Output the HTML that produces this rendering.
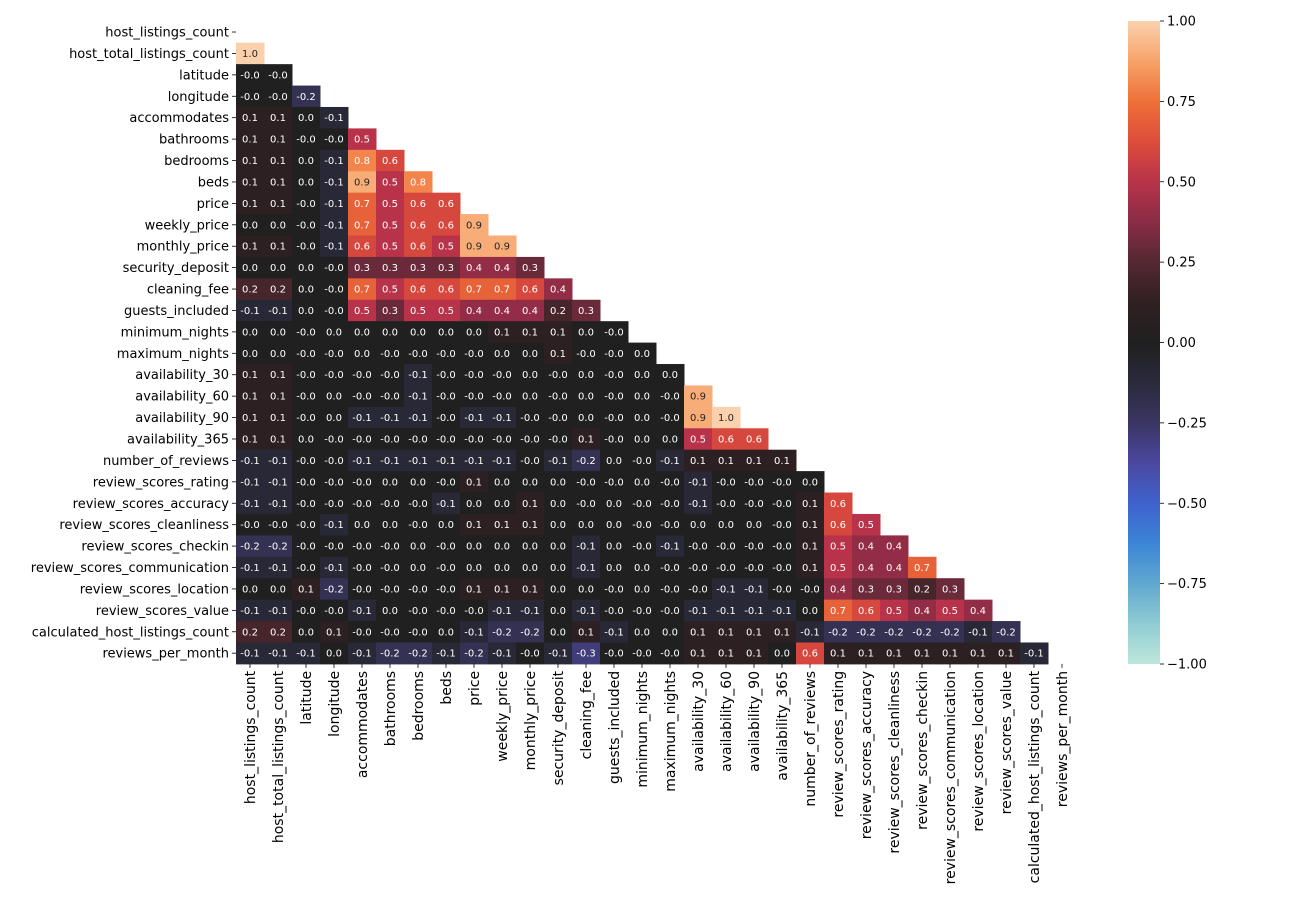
<!DOCTYPE html>
<html><head><meta charset="utf-8"><style>
body{margin:0;background:#fff;}
svg{display:block;font-family:"DejaVu Sans","Liberation Sans",sans-serif;}
</style></head><body>
<svg id="chart" width="1300" height="900">
<defs><linearGradient id="cbg" x1="0" y1="1" x2="0" y2="0"></linearGradient></defs>
</svg>
<script>
const labels=["host_listings_count","host_total_listings_count","latitude","longitude","accommodates","bathrooms","bedrooms","beds","price","weekly_price","monthly_price","security_deposit","cleaning_fee","guests_included","minimum_nights","maximum_nights","availability_30","availability_60","availability_90","availability_365","number_of_reviews","review_scores_rating","review_scores_accuracy","review_scores_cleanliness","review_scores_checkin","review_scores_communication","review_scores_location","review_scores_value","calculated_host_listings_count","reviews_per_month"];
const corrRows=[
[],
[1.0],
[-0.0,-0.0],
[-0.0,-0.0,-0.2],
[0.1,0.1,0.0,-0.1],
[0.1,0.1,-0.0,-0.0,0.5],
[0.1,0.1,0.0,-0.1,0.8,0.6],
[0.1,0.1,0.0,-0.1,0.9,0.5,0.8],
[0.1,0.1,-0.0,-0.1,0.7,0.5,0.6,0.6],
[0.0,0.0,-0.0,-0.1,0.7,0.5,0.6,0.6,0.9],
[0.1,0.1,-0.0,-0.1,0.6,0.5,0.6,0.5,0.9,0.9],
[0.0,0.0,0.0,-0.0,0.3,0.3,0.3,0.3,0.4,0.4,0.3],
[0.2,0.2,0.0,-0.0,0.7,0.5,0.6,0.6,0.7,0.7,0.6,0.4],
[-0.1,-0.1,0.0,-0.0,0.5,0.3,0.5,0.5,0.4,0.4,0.4,0.2,0.3],
[0.0,0.0,-0.0,0.0,0.0,0.0,0.0,0.0,0.0,0.1,0.1,0.1,0.0,-0.0],
[0.0,0.0,-0.0,-0.0,0.0,-0.0,-0.0,-0.0,-0.0,0.0,0.0,0.1,-0.0,-0.0,0.0],
[0.1,0.1,-0.0,-0.0,-0.0,-0.0,-0.1,-0.0,-0.0,-0.0,0.0,-0.0,0.0,-0.0,0.0,0.0],
[0.1,0.1,-0.0,0.0,-0.0,-0.0,-0.1,-0.0,-0.0,-0.0,0.0,-0.0,0.0,-0.0,0.0,-0.0,0.9],
[0.1,0.1,-0.0,0.0,-0.1,-0.1,-0.1,-0.0,-0.1,-0.1,-0.0,-0.0,0.0,-0.0,0.0,-0.0,0.9,1.0],
[0.1,0.1,0.0,-0.0,-0.0,-0.0,-0.0,-0.0,-0.0,-0.0,-0.0,-0.0,0.1,-0.0,0.0,0.0,0.5,0.6,0.6],
[-0.1,-0.1,-0.0,-0.0,-0.1,-0.1,-0.1,-0.1,-0.1,-0.1,-0.0,-0.1,-0.2,0.0,-0.0,-0.1,0.1,0.1,0.1,0.1],
[-0.1,-0.1,-0.0,-0.0,-0.0,0.0,0.0,-0.0,0.1,0.0,0.0,0.0,-0.0,-0.0,0.0,-0.0,-0.1,-0.0,-0.0,-0.0,0.0],
[-0.1,-0.1,-0.0,-0.0,-0.0,-0.0,-0.0,-0.1,0.0,0.0,0.1,0.0,-0.0,0.0,-0.0,-0.0,-0.1,-0.0,-0.0,-0.0,0.1,0.6],
[-0.0,-0.0,-0.0,-0.1,0.0,0.0,-0.0,0.0,0.1,0.1,0.1,0.0,0.0,0.0,-0.0,-0.0,0.0,0.0,0.0,-0.0,0.1,0.6,0.5],
[-0.2,-0.2,-0.0,-0.0,-0.0,-0.0,0.0,-0.0,0.0,0.0,0.0,0.0,-0.1,0.0,-0.0,-0.1,-0.0,-0.0,-0.0,-0.0,0.1,0.5,0.4,0.4],
[-0.1,-0.1,-0.0,-0.1,-0.0,-0.0,0.0,-0.0,0.0,0.0,0.0,0.0,-0.1,0.0,0.0,-0.0,-0.0,-0.0,-0.0,-0.0,0.1,0.5,0.4,0.4,0.7],
[0.0,0.0,0.1,-0.2,-0.0,-0.0,-0.0,-0.0,0.1,0.1,0.1,0.0,0.0,-0.0,0.0,-0.0,-0.0,-0.1,-0.1,-0.0,-0.0,0.4,0.3,0.3,0.2,0.3],
[-0.1,-0.1,-0.0,-0.0,-0.1,0.0,-0.0,-0.0,-0.0,-0.1,-0.1,0.0,-0.1,-0.0,-0.0,-0.0,-0.1,-0.1,-0.1,-0.1,0.0,0.7,0.6,0.5,0.4,0.5,0.4],
[0.2,0.2,0.0,0.1,-0.0,-0.0,-0.0,0.0,-0.1,-0.2,-0.2,0.0,0.1,-0.1,0.0,0.0,0.1,0.1,0.1,0.1,-0.1,-0.2,-0.2,-0.2,-0.2,-0.2,-0.1,-0.2],
[-0.1,-0.1,-0.1,0.0,-0.1,-0.2,-0.2,-0.1,-0.2,-0.1,-0.0,-0.1,-0.3,-0.0,-0.0,-0.0,0.1,0.1,0.1,0.0,0.6,0.1,0.1,0.1,0.1,0.1,0.1,0.1,-0.1]
];
const cbTicks=[1.00,0.75,0.50,0.25,0.00,-0.25,-0.50,-0.75,-1.00];

const NS="http://www.w3.org/2000/svg";
const svg=document.getElementById('chart');
const X0=236,Y0=21.3,CW=28,CH=21.42,N=labels.length;
const xPos=j=>X0+j*CW, yPos=i=>Y0+i*CH;
const stops=[[-1,[189,231,219]],[-0.875,[143,204,211]],[-0.75,[95,168,207]],[-0.625,[60,132,214]],[-0.5,[62,98,205]],[-0.375,[75,72,160]],[-0.25,[58,53,99]],[-0.125,[42,42,60]],[0,[32,32,32]],[0.125,[48,32,34]],[0.25,[84,40,49]],[0.375,[138,44,69]],[0.5,[184,51,74]],[0.625,[222,77,58]],[0.75,[238,112,56]],[0.875,[247,163,106]],[1,[251,209,173]]];
function color(v){v=Math.max(-1,Math.min(1,v));for(let k=0;k<stops.length-1;k++){const a=stops[k],b=stops[k+1];if(v<=b[0]){const t=(v-a[0])/(b[0]-a[0]);return a[1].map((x,m)=>Math.round(x+(b[1][m]-x)*t));}}return stops[stops.length-1][1];}
function fmt(v){const s=Math.abs(v).toFixed(1);return (v<0||Object.is(v,-0))?'-'+s:s;}
function mk(tag,attrs,parent){const e=document.createElementNS(NS,tag);for(const k in attrs)e.setAttribute(k,attrs[k]);(parent||svg).appendChild(e);return e;}
const g=mk('g',{});


corrRows.forEach((row,i)=>{row.forEach((v,j)=>{
 const c=color(v);
 const r=mk('rect',{x:xPos(j),y:yPos(i),width:CW+0.5,height:CH+0.5,fill:`rgb(${c})`},g);
 
 
 const lum=(0.299*c[0]+0.587*c[1]+0.114*c[2]);
 const t=mk('text',{x:xPos(j)+CW/2,y:yPos(i)+CH/2+3.5,'text-anchor':'middle','font-size':'10',fill:lum>185?'#262626':'#fff'},g);
 t.textContent=fmt(v);
 
 
});});
labels.forEach((l,i)=>{
 const y=yPos(i)+CH/2;
 mk('line',{x1:X0-4,x2:X0,y1:y,y2:y,stroke:'#000','stroke-width':0.8});
 const t=mk('text',{x:X0-7,y:y+4.5,'text-anchor':'end','font-size':'13',fill:'#000'});
 t.textContent=l;
 
 
 const x=xPos(i)+CW/2,yb=Y0+N*CH;
 mk('line',{x1:x,x2:x,y1:yb,y2:yb+4,stroke:'#000','stroke-width':0.8});
 const tx=mk('text',{x:0,y:0,'text-anchor':'end','font-size':'14',fill:'#000',transform:`translate(${x+5},${yb+7}) rotate(-90)`});
 tx.textContent=l;
 
 
});
const CBX=1128,CBW=32,CBT=21,CBB=664;
const grad=document.getElementById('cbg');
stops.forEach(s=>{mk('stop',{offset:((s[0]+1)/2*100)+'%','stop-color':`rgb(${s[1]})`},grad);});
const cb=mk('rect',{x:CBX,y:CBT,width:CBW,height:CBB-CBT,fill:'url(#cbg)'});


cbTicks.forEach(v=>{
 const y=CBB-(v+1)/2*(CBB-CBT);
 mk('line',{x1:CBX+CBW,x2:CBX+CBW+4,y1:y,y2:y,stroke:'#000','stroke-width':0.8});
 const t=mk('text',{x:CBX+CBW+7,y:y+4.5,'font-size':'13',fill:'#000'});
 t.textContent=(v<0?'\u2212':'')+Math.abs(v).toFixed(2);
 
 
});
</script>
</body></html>
